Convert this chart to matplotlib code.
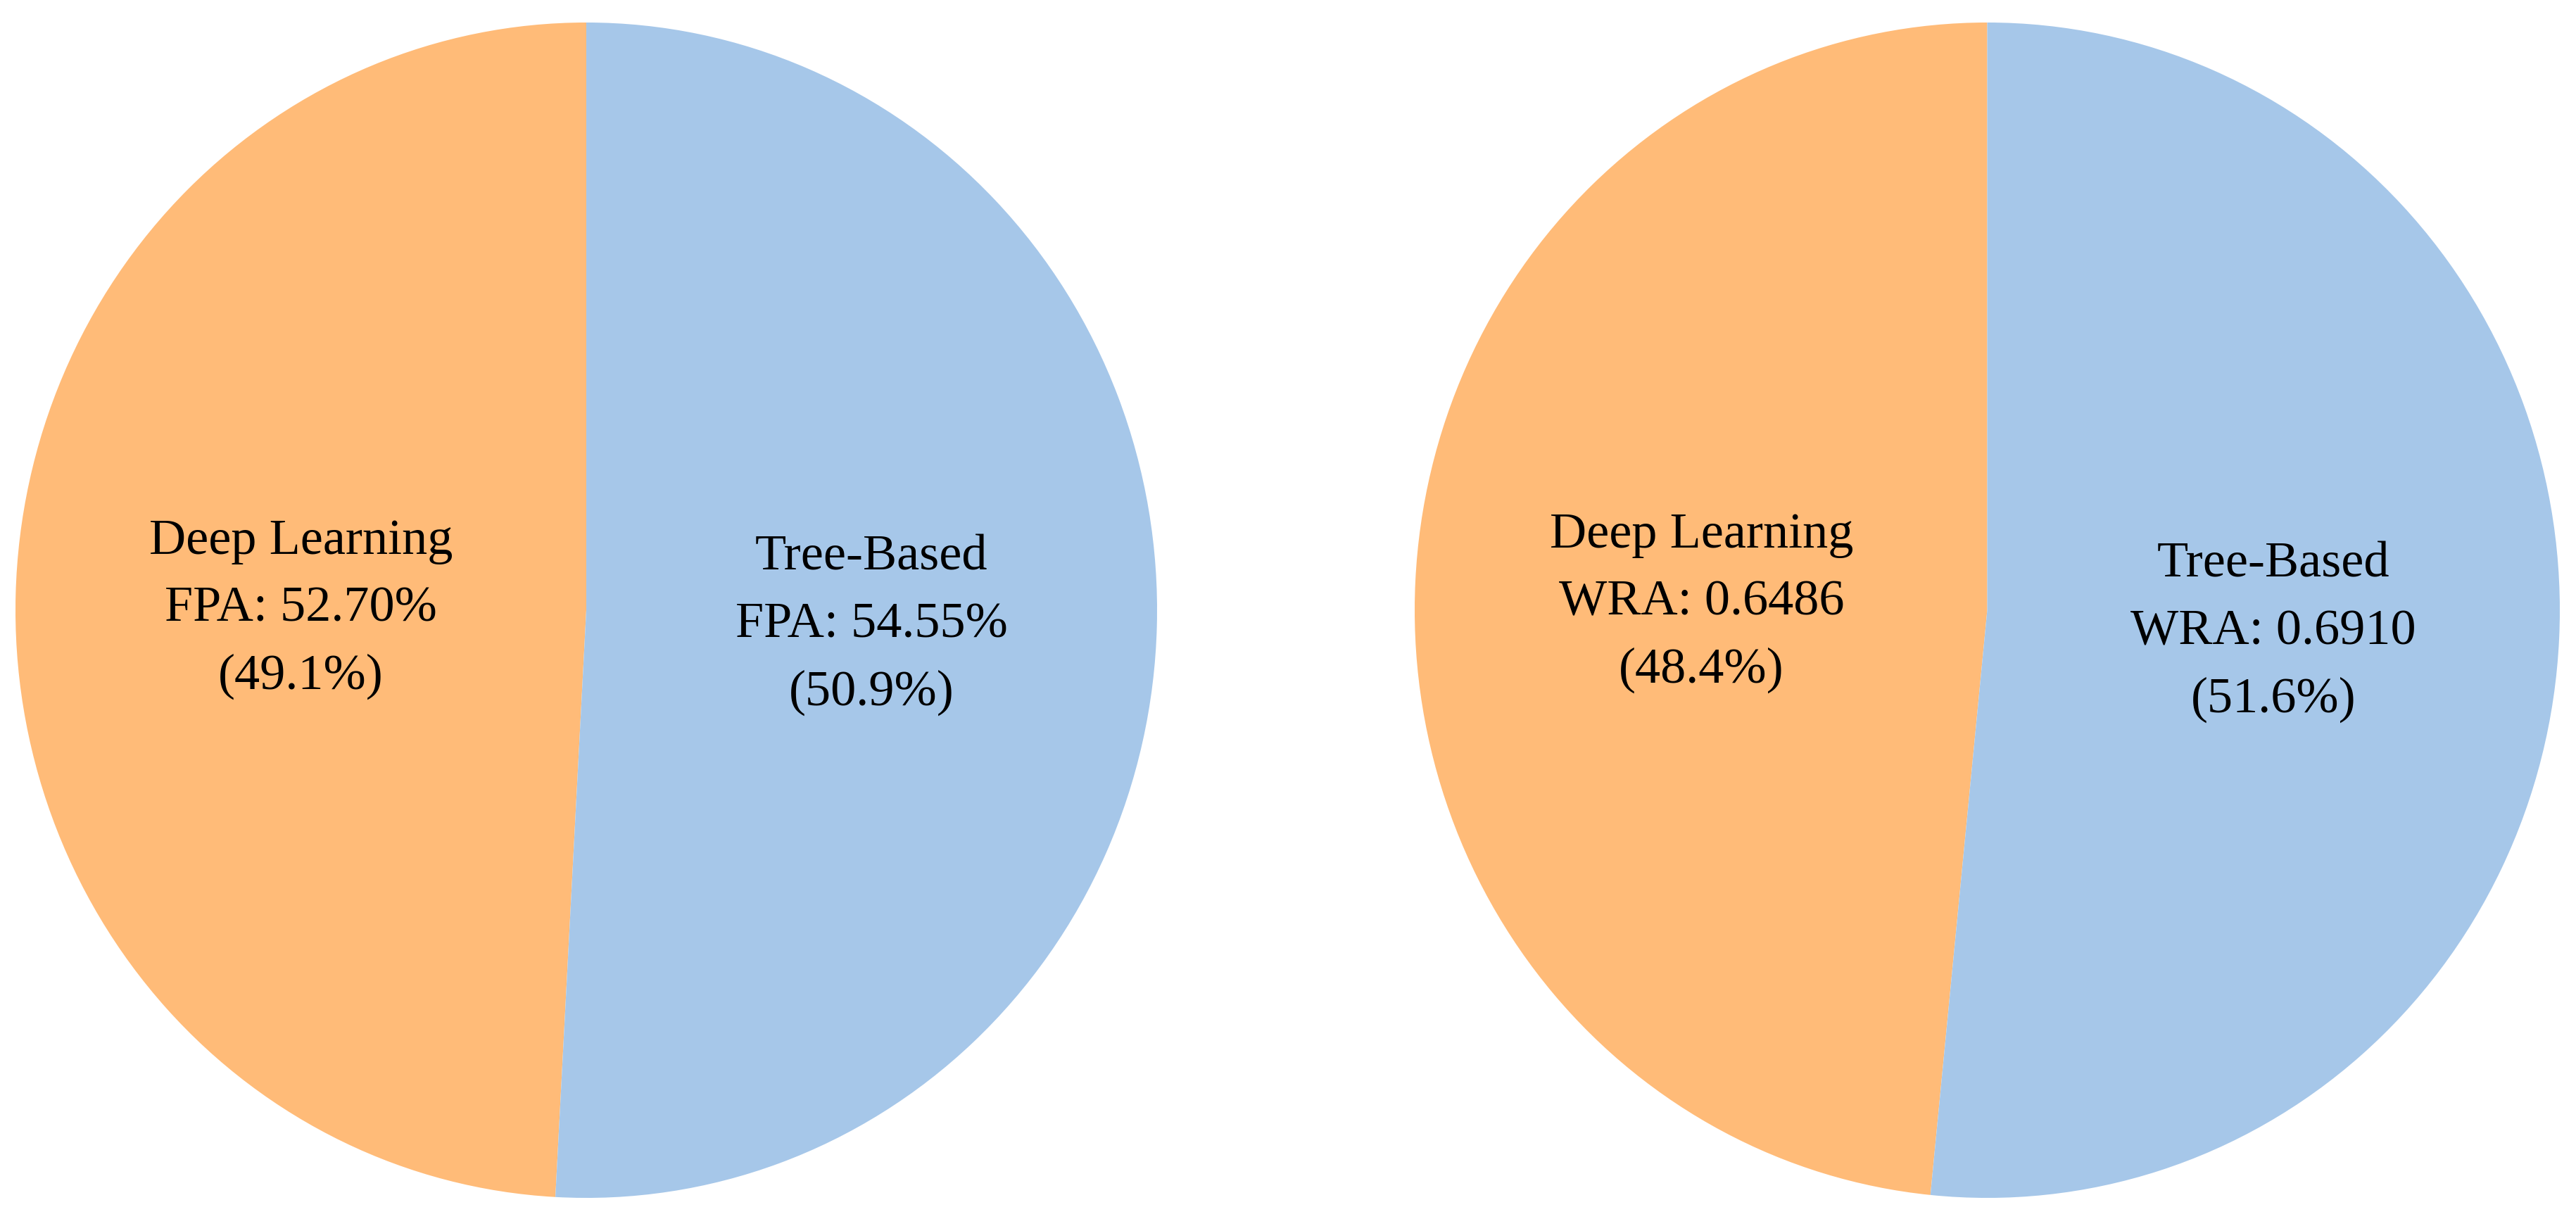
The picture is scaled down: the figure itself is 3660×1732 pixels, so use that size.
import matplotlib.pyplot as plt

plt.rcParams['font.family'] = ['Liberation Serif', 'DejaVu Serif']

models = ['Deep Learning', 'Tree-Based']
fpa = [52.70, 54.55]
wra = [0.6486, 0.6910]
colors = ['#FFBB78', '#A6C7E9']

fig = plt.figure(figsize=(36.6, 17.32), dpi=100)

W, H = 3660, 1732
ax1 = fig.add_axes([22 / W, 30 / H, 1622 / W, 1670 / H])
ax2 = fig.add_axes([2010 / W, 30 / H, 1627 / W, 1670 / H])


def make_labels(vals, name, fmt):
    total = sum(vals)
    return [f'{m}\n{name}: {fmt(v)}\n({v / total * 100:.1f}%)' for m, v in zip(models, vals)]


fpa_labels = make_labels(fpa, 'FPA', lambda v: f'{v:.2f}%')
wra_labels = make_labels(wra, 'WRA', lambda v: f'{v:.4f}')

for ax, vals, labels in [(ax1, fpa, fpa_labels), (ax2, wra, wra_labels)]:
    wedges, texts = ax.pie(vals, labels=labels, colors=colors, startangle=90,
                           labeldistance=0.5, radius=1,
                           wedgeprops={'linewidth': 0},
                           textprops={'fontsize': 52, 'ha': 'center', 'va': 'center',
                                      'linespacing': 1.62})
    # labels sit slightly lower in the original
    for t in texts:
        x, y = t.get_position()
        t.set_position((x, y - 0.012))
    ax.set_aspect('auto')
    ax.set_xlim(-1, 1)
    ax.set_ylim(-1, 1)
    ax.axis('off')

plt.savefig('out.png', dpi=100)
